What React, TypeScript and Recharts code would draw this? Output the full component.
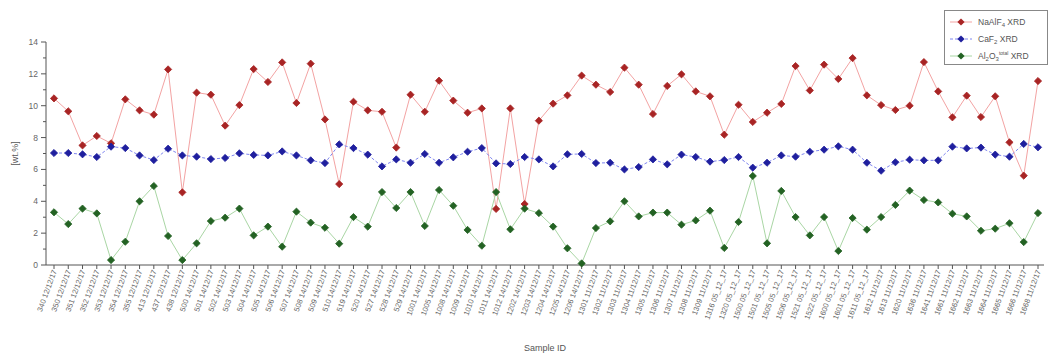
import React from 'react';
import { LineChart, Line, XAxis, YAxis, Label } from 'recharts';

const categories = [
  '340 12/12/17', '350 12/12/17', '351 12/12/17', '352 12/12/17', '353 12/12/17', '354 12/12/17', '355 12/12/17', '413 12/12/17', '437 12/12/17', '438 12/12/17',
  '500 14/12/17', '501 14/12/17', '502 14/12/17', '503 14/12/17', '504 14/12/17', '505 14/12/17', '506 14/12/17', '507 14/12/17', '508 14/12/17', '509 14/12/17',
  '510 14/12/17', '519 14/12/17', '520 14/12/17', '527 14/12/17', '528 14/12/17', '529 14/12/17', '1001 14/12/17', '1005 14/12/17', '1008 14/12/17', '1009 14/12/17',
  '1010 14/12/17', '1011 14/12/17', '1012 14/12/17', '1202 14/12/17', '1203 14/12/17', '1204 14/12/17', '1205 14/12/17', '1206 14/12/17', '1301 11/12/17', '1302 11/12/17',
  '1303 11/12/17', '1304 11/12/17', '1305 11/12/17', '1306 11/12/17', '1307 11/12/17', '1308 11/12/17', '1309 11/12/17', '1316 05_12_17', '1320 05_12_17', '1500 05_12_17',
  '1501 05_12_17', '1505 05_12_17', '1506 05_12_17', '1521 05_12_17', '1522 05_12_17', '1600 05_12_17', '1601 05_12_17', '1611 05_12_17', '1612 11/12/17', '1613 11/12/17',
  '1620 11/12/17', '1636 11/12/17', '1641 11/12/17', '1661 11/12/17', '1662 11/12/17', '1663 11/12/17', '1664 11/12/17', '1665 11/12/17', '1666 11/12/17', '1668 11/12/17',
];

const naAlF = [
  10.46, 9.65, 7.51, 8.10, 7.64, 10.40, 9.71, 9.44, 12.28, 4.56,
  10.82, 10.69, 8.75, 10.04, 12.30, 11.49, 12.72, 10.17, 12.64, 9.14,
  5.08, 10.25, 9.71, 9.62, 7.37, 10.69, 9.62, 11.57, 10.32, 9.56,
  9.83, 3.52, 9.83, 3.83, 9.06, 10.13, 10.65, 11.89, 11.32, 10.86,
  12.39, 11.32, 9.48, 11.24, 11.97, 10.90, 10.59, 8.18, 10.06, 8.98,
  9.56, 10.11, 12.49, 10.96, 12.58, 11.68, 12.99, 10.65, 10.04, 9.73,
  10.00, 12.74, 10.90, 9.27, 10.63, 9.29, 10.59, 7.70, 5.61, 11.55,
];

const caF2 = [
  7.03, 7.03, 6.95, 6.78, 7.43, 7.34, 6.88, 6.59, 7.30, 6.88,
  6.80, 6.65, 6.72, 7.01, 6.91, 6.88, 7.13, 6.88, 6.57, 6.40,
  7.57, 7.34, 6.93, 6.19, 6.63, 6.42, 6.97, 6.42, 6.76, 7.11,
  7.34, 6.38, 6.34, 6.78, 6.63, 6.19, 6.95, 6.97, 6.40, 6.42,
  6.00, 6.15, 6.63, 6.32, 6.93, 6.78, 6.49, 6.59, 6.78, 6.11,
  6.42, 6.88, 6.80, 7.11, 7.24, 7.45, 7.24, 6.42, 5.92, 6.45,
  6.61, 6.57, 6.57, 7.43, 7.32, 7.37, 6.93, 6.80, 7.60, 7.39,
];

const al2o3 = [
  3.31, 2.57, 3.54, 3.24, 0.31, 1.46, 4.00, 4.96, 1.82, 0.31,
  1.36, 2.76, 2.97, 3.54, 1.86, 2.41, 1.15, 3.35, 2.66, 2.34,
  1.34, 3.01, 2.41, 4.58, 3.58, 4.58, 2.45, 4.71, 3.72, 2.20,
  1.21, 4.58, 2.24, 3.54, 3.26, 2.41, 1.05, 0.10, 2.32, 2.74,
  4.00, 3.05, 3.29, 3.29, 2.53, 2.80, 3.41, 1.07, 2.70, 5.59,
  1.36, 4.65, 3.01, 1.86, 3.01, 0.88, 2.95, 2.22, 3.01, 3.77,
  4.67, 4.08, 3.93, 3.22, 3.05, 2.15, 2.28, 2.62, 1.44, 3.26,
];

const yTicks = [0, 1, 2, 3, 4, 5, 6, 7, 8, 9, 10, 11, 12, 13, 14];

const data = categories.map((name, i) => ({
  name,
  a: naAlF[i],
  b: caF2[i],
  c: al2o3[i],
}));

const FONT = '"Liberation Sans", Arial, sans-serif';
const AXIS = '#555';

const Diamond = (fill: string) => (props: any) => {
  const { cx, cy } = props;
  if (cx == null || cy == null) return null;
  const r = 3.6;
  return (
    <polygon
      points={`${cx},${cy - r} ${cx + r},${cy} ${cx},${cy + r} ${cx - r},${cy}`}
      fill={fill}
      stroke={fill}
      strokeWidth={0.8}
    />
  );
};

const XTick = (props: any) => {
  const { x, y, payload } = props;
  return (
    <g transform={`translate(${x},${y})`}>
      <text
        x={0}
        y={0}
        dy={3}
        textAnchor="end"
        transform="rotate(-70)"
        fontSize={7.5}
        fontFamily={FONT}
        fill="#666"
      >
        {payload.value}
      </text>
    </g>
  );
};

const YTick = (props: any) => {
  const { x, y, payload } = props;
  const v = payload.value;
  const major = v % 2 === 0;
  const axisX = x + 7;
  return (
    <g>
      <line x1={axisX} x2={axisX - (major ? 5 : 3)} y1={y} y2={y} stroke={AXIS} strokeWidth={1} />
      {major && (
        <text x={x - 1} y={y} dy={3} textAnchor="end" fontSize={8.5} fontFamily={FONT} fill="#666">
          {v}
        </text>
      )}
    </g>
  );
};

const LegendRow = ({ color, lineColor, dashed, children }: any) => (
  <div style={{ display: 'flex', alignItems: 'center', height: 17 }}>
    <svg width={26} height={10} style={{ flex: 'none' }}>
      <line x1={2} x2={24} y1={5} y2={5} stroke={lineColor} strokeWidth={1} strokeDasharray={dashed ? '3 2' : undefined} />
      <polygon points="13,1.4 16.6,5 13,8.6 9.4,5" fill={color} />
    </svg>
    <span style={{ marginLeft: 4, whiteSpace: 'nowrap' }}>{children}</span>
  </div>
);

const subStyle: React.CSSProperties = { fontSize: 6, verticalAlign: '-2px', lineHeight: 0 };
const supStyle: React.CSSProperties = { fontSize: 5, verticalAlign: '4px', lineHeight: 0 };

export default function App() {
  return (
    <div style={{ position: 'absolute', left: 0, top: 0, width: 1051, height: 361, background: '#fff', overflow: 'hidden' }}>
      <LineChart width={1051} height={361} data={data} margin={{ top: 42, right: 7, bottom: 0, left: 0 }}>
        <XAxis
          xAxisId="bottom"
          dataKey="name"
          height={96}
          interval={0}
          padding={{ left: 8, right: 6 }}
          tick={<XTick />}
          tickSize={4}
          tickMargin={1}
          stroke={AXIS}
        >
          <Label value="Sample ID" position="insideBottom" offset={10} style={{ fontSize: 9, fontFamily: FONT, fill: '#555' }} />
        </XAxis>
        <XAxis
          xAxisId="top"
          orientation="top"
          dataKey="name"
          height={0}
          interval={0}
          padding={{ left: 8, right: 6 }}
          mirror
          tick={false}
          tickSize={3}
          stroke={AXIS}
        />
        <YAxis
          yAxisId="left"
          width={46}
          domain={[0, 14]}
          ticks={yTicks}
          interval={0}
          tickLine={false}
          tickSize={5}
          tickMargin={2}
          tick={<YTick />}
          stroke={AXIS}
        >
          <Label value="[wt.%]" angle={-90} position="insideLeft" offset={15} style={{ fontSize: 9, fontFamily: FONT, fill: '#555', textAnchor: 'middle' }} />
        </YAxis>
        <YAxis
          yAxisId="right"
          orientation="right"
          width={0}
          domain={[0, 14]}
          ticks={yTicks}
          interval={0}
          mirror
          tick={false}
          tickSize={3}
          stroke={AXIS}
        />
        <Line
          xAxisId="bottom"
          yAxisId="left"
          dataKey="a"
          stroke="#f3a3a3"
          strokeWidth={1}
          dot={Diamond('#a82424')}
          activeDot={false}
          isAnimationActive={false}
        />
        <Line
          xAxisId="bottom"
          yAxisId="left"
          dataKey="b"
          stroke="#7f86f0"
          strokeWidth={1}
          strokeDasharray="3 2"
          dot={Diamond('#1f1f9e')}
          activeDot={false}
          isAnimationActive={false}
        />
        <Line
          xAxisId="bottom"
          yAxisId="left"
          dataKey="c"
          stroke="#a9d6a4"
          strokeWidth={1}
          dot={Diamond('#236223')}
          activeDot={false}
          isAnimationActive={false}
        />
      </LineChart>
      <div
        style={{
          position: 'absolute',
          left: 944,
          top: 10,
          width: 104,
          height: 55,
          border: '1px solid #888',
          background: '#fff',
          boxSizing: 'border-box',
          padding: '2px 0 0 3px',
          fontFamily: FONT,
          fontSize: 8.5,
          color: '#555',
        }}
      >
        <LegendRow color="#a82424" lineColor="#f3a3a3">
          NaAlF<span style={subStyle}>4</span> XRD
        </LegendRow>
        <LegendRow color="#1f1f9e" lineColor="#7f86f0" dashed>
          CaF<span style={subStyle}>2</span> XRD
        </LegendRow>
        <LegendRow color="#236223" lineColor="#a9d6a4">
          Al<span style={subStyle}>2</span>O<span style={subStyle}>3</span>
          <span style={supStyle}>total</span> XRD
        </LegendRow>
      </div>
    </div>
  );
}
